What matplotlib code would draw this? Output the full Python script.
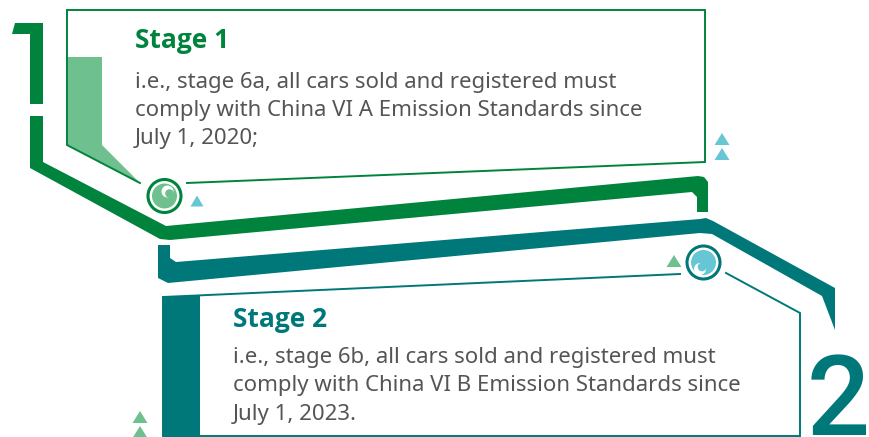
import matplotlib
matplotlib.use("Agg")
import matplotlib.pyplot as plt
from matplotlib.patches import Polygon, Circle

plt.rcParams['font.family'] = ['Noto Sans', 'DejaVu Sans']

# colours
GREEN = '#00843D'
TEAL = '#00787A'
LGREEN = '#6EC18E'
CYAN = '#67C6D3'
GREY = '#555555'

# text content
titles = ['Stage 1', 'Stage 2']
lines1 = ['i.e., stage 6a, all cars sold and registered must',
          'comply with China VI A Emission Standards since',
          'July 1, 2020;']
lines2 = ['i.e., stage 6b, all cars sold and registered must',
          'comply with China VI B Emission Standards since',
          'July 1, 2023.']

fig = plt.figure(figsize=(8.7, 4.37), dpi=100)
ax = fig.add_axes([0, 0, 1, 1])
ax.set_xlim(0, 870)
ax.set_ylim(437, 0)
ax.axis('off')

# big "1" glyph (top part)
ax.add_patch(Polygon([(15, 23), (43, 23), (43, 104), (30, 104), (30, 34), (12, 34)],
                     closed=True, fc=GREEN, ec='none'))
# green band: lower stem of "1" + diagonal + horizontal hook
ax.add_patch(Polygon([(30, 116), (43, 116), (43, 162), (166, 226), (698, 176), (704, 177),
                      (708, 182), (708, 212), (697, 212), (697, 197), (692, 192),
                      (170, 240), (160, 239), (30, 168)],
                     closed=True, fc=GREEN, ec='none', joinstyle='round'))
# teal band: from the stub to the top stroke of "2"
ax.add_patch(Polygon([(158, 245), (170, 245), (170, 258), (176, 262), (700, 219), (706, 218),
                      (713, 221), (835, 288), (835, 330), (822, 296), (712, 234), (700, 233),
                      (168, 283), (158, 278)],
                     closed=True, fc=TEAL, ec='none'))

# "2" glyph
ax.text(870, 435, '2', color=TEAL, fontsize=80, fontweight=500, family='Roboto',
        ha='right', va='baseline')

# Stage 1 box
ax.add_patch(Polygon([(68, 57), (102, 57), (102, 145), (140, 183), (68, 145)],
                     closed=True, fc=LGREEN, ec='none'))
ax.plot([140, 67, 67, 705, 705, 187], [183, 145, 10, 10, 162, 183],
        color=GREEN, lw=1.4, solid_joinstyle='miter')

# Stage 2 box
ax.add_patch(Polygon([(163, 297), (200, 295.4), (200, 437), (163, 437)],
                     closed=True, fc=TEAL, ec='none'))
ax.plot([680, 163, 163, 800, 800, 726], [274, 297, 436, 436, 313, 273],
        color=TEAL, lw=1.4, solid_joinstyle='miter')

# circle 1
ax.add_patch(Circle((164.5, 196), 16.5, fc='white', ec=GREEN, lw=2.2))
ax.add_patch(Circle((164.5, 196), 12.5, fc=LGREEN, ec='none'))
ax.add_patch(Circle((167.5, 191.5), 6, fc='white', ec='none'))
ax.add_patch(Circle((169.5, 193.5), 4.3, fc=LGREEN, ec='none'))

# circle 2
ax.add_patch(Circle((703.5, 262.5), 16.5, fc='white', ec=TEAL, lw=2.2))
ax.add_patch(Circle((703.5, 262.5), 12.5, fc=CYAN, ec='none'))
ax.add_patch(Circle((700, 269), 6, fc='white', ec='none'))
ax.add_patch(Circle((702, 267), 4.3, fc=CYAN, ec='none'))

# small triangles
def tri(x, y, c, w=15, h=12):
    ax.add_patch(Polygon([(x - w / 2, y + h / 2), (x + w / 2, y + h / 2), (x, y - h / 2)],
                         closed=True, fc=c, ec='none'))

tri(197, 201, CYAN, 13, 11)
tri(722, 139, CYAN)
tri(722, 154, CYAN)
tri(674, 261, LGREEN)
tri(140, 417, LGREEN)
tri(140, 432, LGREEN)

# texts
ax.text(135, 48, titles[0], color=GREEN, fontsize=19, fontweight='bold', family='Open Sans',
        va='baseline')
for i, s in enumerate(lines1):
    ax.text(135, 88 + 28 * i, s, color=GREY, fontsize=16, va='baseline')

ax.text(233, 327, titles[1], color=TEAL, fontsize=19, fontweight='bold', family='Open Sans',
        va='baseline')
for i, s in enumerate(lines2):
    ax.text(233, 363 + 28.5 * i, s, color=GREY, fontsize=16, va='baseline')

fig.savefig('out.png', dpi=100)
